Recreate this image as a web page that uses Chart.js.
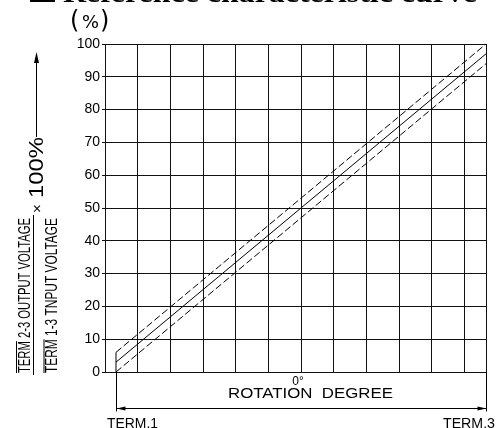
<!DOCTYPE html>
<html>
<head>
<meta charset="utf-8">
<script src="https://cdn.jsdelivr.net/npm/chart.js@4/dist/chart.umd.min.js"></script>
<style>
  html, body { margin: 0; padding: 0; background: #fff; }
  #wrap { width: 500px; height: 428px; }
</style>
</head>
<body>
<div id="wrap"><canvas id="chart" width="500" height="428"></canvas></div>
<script>
// rotation, % of travel from TERM.1 to TERM.3
const rotation = [0, 100];
// output ratio (%)
const outputNominal = [3, 97];
const outputUpper = [6, 100];
const outputLower = [0, 94];
const yTickLabels = ['0', '10', '20', '30', '40', '50', '60', '70', '80', '90', '100'];

const TITLE = 'Reference characteristic curve';
const Y_TITLE_TOP = 'TERM 2-3 OUTPUT VOLTAGE';
const Y_TITLE_BOTTOM = 'TERM 1-3 TNPUT VOLTAGE';

// grid is drawn on its own pitch, wider than the travel
const X_MIN = -2.97;
const X_GRID = 8.83;

const pts = (xs, ys) => xs.map((x, i) => ({ x: x, y: ys[i] }));

function fitText(ctx, text, x, y, w) {
  const m = ctx.measureText(text).width;
  ctx.save();
  ctx.translate(x, y);
  ctx.scale(w / m, 1);
  ctx.textAlign = 'left';
  ctx.fillText(text, 0, 0);
  ctx.restore();
  return w / m;
}

function arrowHead(ctx, tx, ty, dx, dy, len, half) {
  // dx,dy: unit direction the arrow points to
  const bx = tx - dx * len, by = ty - dy * len;
  ctx.beginPath();
  ctx.moveTo(tx, ty);
  ctx.lineTo(bx - dy * half, by + dx * half);
  ctx.lineTo(bx + dy * half, by - dx * half);
  ctx.closePath();
  ctx.fill();
}

const drawing = {
  id: 'drawing',
  afterDraw(chart) {
    const ctx = chart.ctx;
    const xs = chart.scales.x;
    const area = chart.chartArea;
    ctx.save();
    ctx.fillStyle = '#000';
    ctx.strokeStyle = '#000';
    ctx.lineWidth = 1;
    ctx.textBaseline = 'alphabetic';

    // title, mostly off the top edge
    ctx.fillRect(30, -20, 25, 22);
    ctx.font = 'bold 28px "Liberation Serif"';
    fitText(ctx, TITLE, 63, 2, 414);

    // (%)
    ctx.font = '24px "DejaVu Sans"';
    ctx.fillText('(', 70, 28);
    ctx.fillText(')', 100, 28);
    ctx.font = '17px "DejaVu Sans"';
    fitText(ctx, '%', 82, 28, 17);

    // vertical axis title (fraction)
    ctx.font = '16px "Liberation Sans"';
    const drawRot = (text, bx, by, w) => {
      ctx.save();
      ctx.translate(bx, by);
      ctx.rotate(-Math.PI / 2);
      const s = fitText(ctx, text, 0, 0, w);
      const tw = ctx.measureText('TERM').width * s;
      ctx.beginPath();
      ctx.moveTo(0, -13);
      ctx.lineTo(tw, -13);
      ctx.stroke();
      ctx.restore();
    };
    drawRot(Y_TITLE_TOP, 29.5, 373, 155);
    drawRot(Y_TITLE_BOTTOM, 57, 373, 155);
    ctx.beginPath();
    ctx.moveTo(33.5, 215);
    ctx.lineTo(33.5, 375);
    ctx.stroke();

    // x100%
    ctx.save();
    ctx.translate(43, 212);
    ctx.rotate(-Math.PI / 2);
    ctx.font = '15px "Liberation Sans"';
    ctx.fillText('\u00d7', -1, -1);
    ctx.font = '21px "Liberation Sans"';
    fitText(ctx, '100%', 14, 0, 61);
    ctx.restore();

    // arrow up
    ctx.beginPath();
    ctx.moveTo(36.5, 137);
    ctx.lineTo(36.5, 60);
    ctx.stroke();
    arrowHead(ctx, 36.5, 52, 0, -1, 11, 2.5);

    // rotation dimension
    const x0 = Math.round(xs.getPixelForValue(rotation[0])) + 0.5;
    const x1 = Math.round(xs.getPixelForValue(rotation[rotation.length - 1])) + 0.5;
    const dy = 408.5;
    ctx.beginPath();
    ctx.moveTo(x0, area.bottom);
    ctx.lineTo(x0, dy + 3);
    ctx.moveTo(x1, area.bottom);
    ctx.lineTo(x1, dy + 3);
    ctx.moveTo(x0, dy);
    ctx.lineTo(x1, dy);
    ctx.stroke();
    arrowHead(ctx, x0, dy, -1, 0, 9, 2);
    arrowHead(ctx, x1, dy, 1, 0, 9, 2);

    ctx.font = '12px "Liberation Sans"';
    ctx.textAlign = 'center';
    ctx.fillText('0\u00b0', 298, 385);
    ctx.font = '15px "Liberation Sans"';
    fitText(ctx, 'ROTATION  DEGREE', 228, 398, 165);
    fitText(ctx, 'TERM.1', 107, 428, 51);
    fitText(ctx, 'TERM.3', 443, 428, 52);

    ctx.restore();
  }
};

const lineBase = {
  borderColor: '#000',
  borderWidth: 1,
  pointRadius: 0,
  fill: false,
  tension: 0,
  clip: false
};

new Chart(document.getElementById('chart'), {
  type: 'line',
  data: {
    datasets: [
      Object.assign({ label: 'nominal', data: pts(rotation, outputNominal) }, lineBase),
      Object.assign({ label: 'upper', data: pts(rotation, outputUpper), borderDash: [7, 3] }, lineBase),
      Object.assign({ label: 'lower', data: pts(rotation, outputLower), borderDash: [7, 3] }, lineBase),
      Object.assign({ label: 'start', data: [
        { x: rotation[0], y: outputLower[0] },
        { x: rotation[0], y: outputUpper[0] }
      ] }, lineBase)
    ]
  },
  options: {
    responsive: false,
    animation: false,
    devicePixelRatio: 1,
    layout: { padding: { top: 44, right: 14, bottom: 56, left: 65 } },
    plugins: { legend: { display: false }, tooltip: { enabled: false } },
    scales: {
      x: {
        type: 'linear',
        min: X_MIN,
        max: 100,
        afterBuildTicks: (s) => {
          const t = [];
          for (let k = 0; k < 12; k++) t.push({ value: X_MIN + k * X_GRID });
          t.push({ value: 100 });
          s.ticks = t;
        },
        afterFit: (s) => { s.height = 0; },
        ticks: { display: false },
        grid: { color: '#111', lineWidth: 1, drawTicks: false },
        border: { display: true, color: '#111' }
      },
      y: {
        type: 'linear',
        min: 0,
        max: 100,
        afterBuildTicks: (s) => {
          s.ticks = yTickLabels.map((v) => ({ value: Number(v) }));
        },
        afterFit: (s) => { s.width = 40; },
        ticks: {
          color: '#000',
          padding: 2,
          font: { family: 'Liberation Sans', size: 14 }
        },
        grid: { color: '#111', lineWidth: 1, tickLength: 3 },
        border: { display: true, color: '#111' }
      }
    }
  },
  plugins: [drawing]
});
</script>
</body>
</html>
